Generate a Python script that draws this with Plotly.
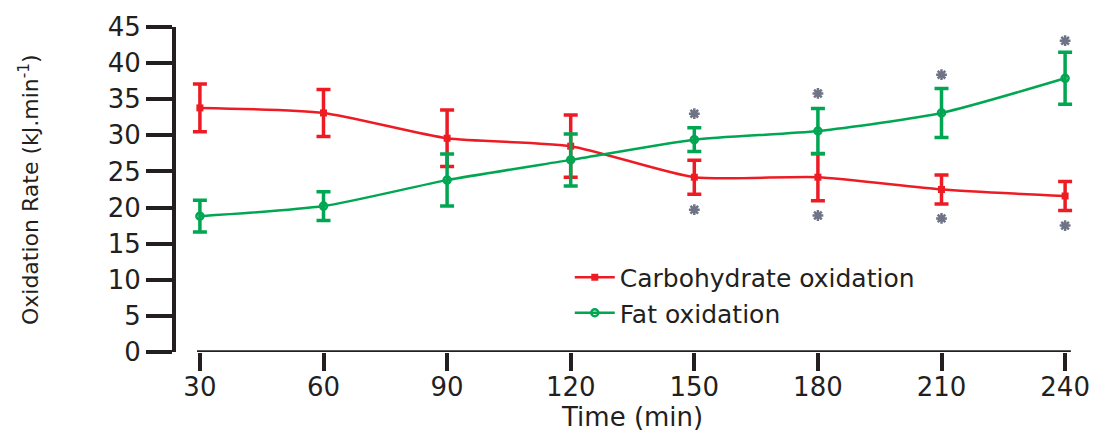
import plotly.graph_objects as go

time_min = [30, 60, 90, 120, 150, 180, 210, 240]
carb_ox = [33.8, 33.1, 29.6, 28.5, 24.2, 24.2, 22.5, 21.6]
carb_err = [3.3, 3.25, 3.9, 4.3, 2.35, 3.25, 2.0, 2.0]
fat_ox = [18.8, 20.2, 23.8, 26.6, 29.4, 30.6, 33.1, 37.9]
fat_err = [2.2, 2.0, 3.6, 3.6, 1.65, 3.1, 3.4, 3.6]
star_time = [150, 180, 210, 240, 150, 180, 210, 240]
star_val = [33.0, 35.8, 38.4, 43.1, 19.7, 18.9, 18.5, 17.5]
y_ticks = [0, 5, 10, 15, 20, 25, 30, 35, 40, 45]

RED = "#ed1c24"
GREEN = "#00a651"
AXIS = "#231f20"
FONT = "DejaVu Sans"

fig = go.Figure()
fig.add_trace(go.Scatter(
    x=time_min, y=carb_ox, name="Carbohydrate oxidation",
    mode="lines+markers",
    line=dict(color=RED, width=2.5, shape="spline", smoothing=0.6),
    marker=dict(symbol="square", size=7, color=RED),
    error_y=dict(type="data", array=carb_err, color=RED, thickness=3.5, width=7),
    cliponaxis=False,
))
fig.add_trace(go.Scatter(
    x=time_min, y=fat_ox, name="Fat oxidation",
    mode="lines+markers",
    line=dict(color=GREEN, width=2.5, shape="spline", smoothing=0.6),
    marker=dict(symbol="circle-open", size=7, color=GREEN, line=dict(width=2.5)),
    error_y=dict(type="data", array=fat_err, color=GREEN, thickness=3.5, width=7),
    cliponaxis=False,
))
fig.add_trace(go.Scatter(
    x=star_time, y=star_val, mode="markers", showlegend=False,
    marker=dict(symbol="asterisk-open", size=9, color="#6e7386", line=dict(width=2.5, color="#6e7386")),
    cliponaxis=False, hoverinfo="skip",
))

# detached x-axis line
fig.add_shape(type="line", xref="x", yref="y", x0=29.3, x1=241.4, y0=0, y1=0,
              line=dict(color=AXIS, width=3.5))

fig.update_layout(
    width=1109, height=434,
    margin=dict(l=176, r=34, t=22, b=82),
    plot_bgcolor="white", paper_bgcolor="white",
    font=dict(family=FONT, color=AXIS),
    showlegend=True,
    legend=dict(x=0.438, y=0.3, xanchor="left", yanchor="top",
                font=dict(size=25, family=FONT, color=AXIS),
                bgcolor="rgba(0,0,0,0)", tracegroupgap=0, itemwidth=40),
    xaxis=dict(range=[24.2, 242.4], tickvals=time_min, showline=False,
               showgrid=False, zeroline=False, ticks="outside", ticklen=18,
               tickwidth=3.5, tickcolor=AXIS, ticklabelstandoff=-6,
               tickfont=dict(size=26, family=FONT, color=AXIS)),
    yaxis=dict(range=[0, 45], tickvals=y_ticks, showline=True, linewidth=4,
               linecolor=AXIS, showgrid=False, zeroline=False, ticks="outside",
               ticklen=26, tickwidth=3.5, tickcolor=AXIS, ticklabelstandoff=0,
               tickfont=dict(size=26, family=FONT, color=AXIS)),
    annotations=[
        dict(text="Oxidation Rate (kJ.min<sup>-1</sup>)", textangle=-90,
             xref="paper", yref="paper", x=-0.164, y=0.5,
             xanchor="center", yanchor="middle", showarrow=False,
             font=dict(size=22, family=FONT, color=AXIS)),
        dict(text="Time (min)", xref="paper", yref="paper", x=0.507, y=-0.2,
             xanchor="center", yanchor="middle", showarrow=False,
             font=dict(size=26, family=FONT, color=AXIS)),
    ],
)

fig.write_html("out.html")
